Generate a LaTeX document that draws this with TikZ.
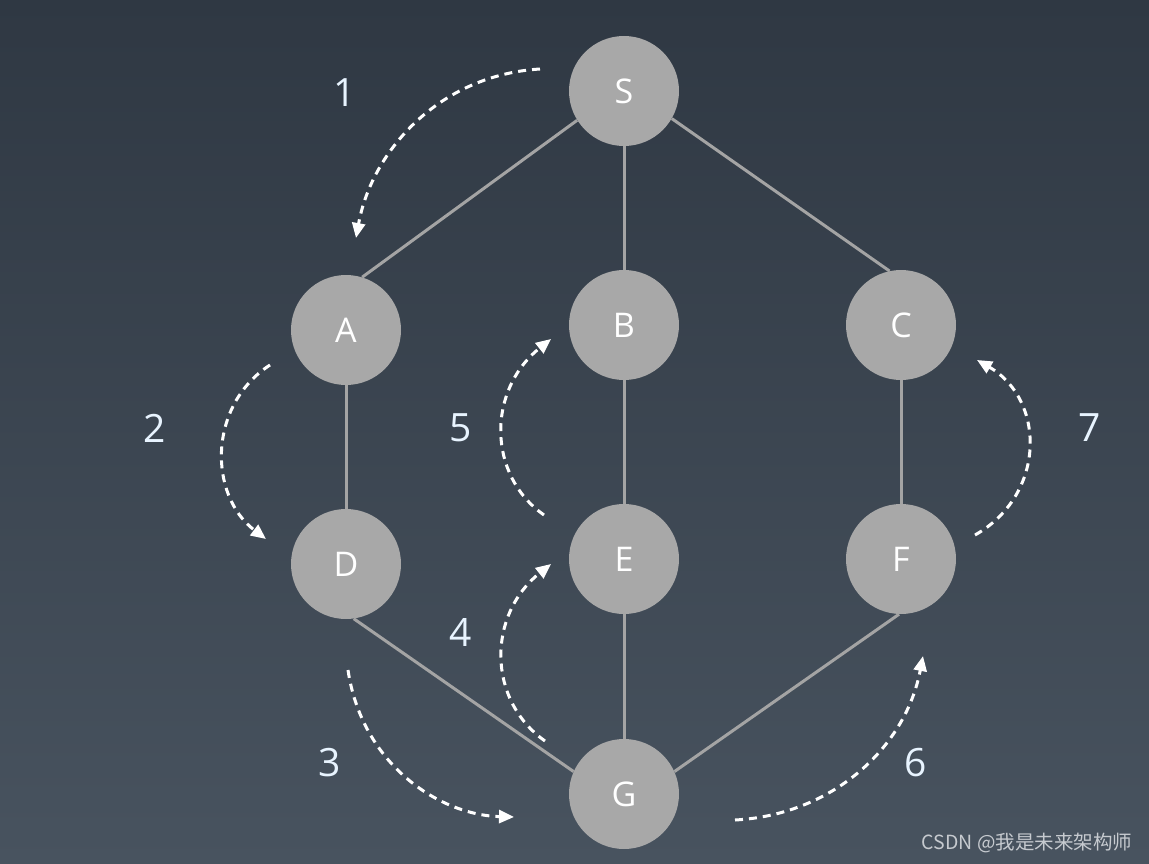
\documentclass[tikz,border=0pt]{standalone}
\usepackage{fontspec}
\setmainfont{Open Sans}
\newfontfamily\cjk{Noto Sans CJK SC}
\usepackage{xcolor}
\usetikzlibrary{arrows.meta}
\definecolor{bgtop}{HTML}{2F3843}
\definecolor{bgbottom}{HTML}{48535F}
\definecolor{vertfill}{HTML}{A8A8A8}
\definecolor{edgegray}{HTML}{A4A4A4}
\definecolor{steplabel}{HTML}{E8F4FF}
\definecolor{markgray}{HTML}{C6CACF}

\begin{document}
\begin{tikzpicture}[
  x=1pt,y=-1pt,
  vert/.style={circle,fill=vertfill,minimum size=110pt,inner sep=0pt,text=white,font=\fontsize{34}{34}\selectfont},
  edge/.style={edgegray,line width=3pt},
  trace/.style={white,line width=3pt,dash pattern=on 8pt off 6pt,-{Triangle[length=15pt,width=13pt]}},
  steplbl/.style={text=steplabel,font=\fontsize{39}{39}\selectfont}
]
  \useasboundingbox (0,0) rectangle (1149,864);
  \shade[top color=bgtop,bottom color=bgbottom] (0,0) rectangle (1149,864);

  % vertices
  \node[vert] (S) at (624,91) {S};
  \node[vert] (A) at (346,330) {A};
  \node[vert] (B) at (624,325) {B};
  \node[vert] (C) at (901,325) {C};
  \node[vert] (D) at (346,564) {D};
  \node[vert] (E) at (624,559) {E};
  \node[vert] (F) at (901,559) {F};
  \node[vert] (G) at (624,794) {G};

  \draw[edge] (S.212) -- (A.73);
  \draw[edge] (S) -- (B);
  \draw[edge] (S.330) -- (C.102);
  \draw[edge] (A) -- (D);
  \draw[edge] (B) -- (E);
  \draw[edge] (C) -- (F);
  \draw[edge] (D.278) -- (G.156);
  \draw[edge] (E) -- (G);
  \draw[edge] (F.268) -- (G.24);

  % traversal order
  \coordinate (t1s) at (540,69);  \coordinate (t1e) at (356,238);
  \coordinate (t2s) at (270,365); \coordinate (t2e) at (266,539);
  \coordinate (t3s) at (348,670); \coordinate (t3e) at (514,817);
  \coordinate (t4s) at (545,741); \coordinate (t4e) at (551,564);
  \coordinate (t5s) at (544,515); \coordinate (t5e) at (551,339);
  \coordinate (t6s) at (735,820); \coordinate (t6e) at (923,656);
  \coordinate (t7s) at (975,535); \coordinate (t7e) at (977,360);

  \draw[trace] (t1s) .. controls (440,75) and (372,150) .. (t1e);
  \draw[trace] (t2s) .. controls (208,405) and (208,495) .. (t2e);
  \draw[trace] (t3s) .. controls (362,765) and (440,815) .. (t3e);
  \draw[trace] (t4s) .. controls (487,700) and (487,615) .. (t4e);
  \draw[trace] (t5s) .. controls (487,475) and (487,390) .. (t5e);
  \draw[trace] (t6s) .. controls (830,815) and (905,750) .. (t6e);
  \draw[trace] (t7s) .. controls (1046,495) and (1046,400) .. (t7e);

  \node[steplbl] (n1) at (345,93) {1};
  \node[steplbl] (n2) at (155,428) {2};
  \node[steplbl] (n3) at (330,763) {3};
  \node[steplbl] (n4) at (461,632) {4};
  \node[steplbl] (n5) at (461,428) {5};
  \node[steplbl] (n6) at (916,763) {6};
  \node[steplbl] (n7) at (1090,428) {7};

  \node[text=markgray,font=\cjk\fontsize{19.5}{19.5}\selectfont] (mark) at (1027,843) {CSDN @我是未来架构师};
\end{tikzpicture}
\end{document}
